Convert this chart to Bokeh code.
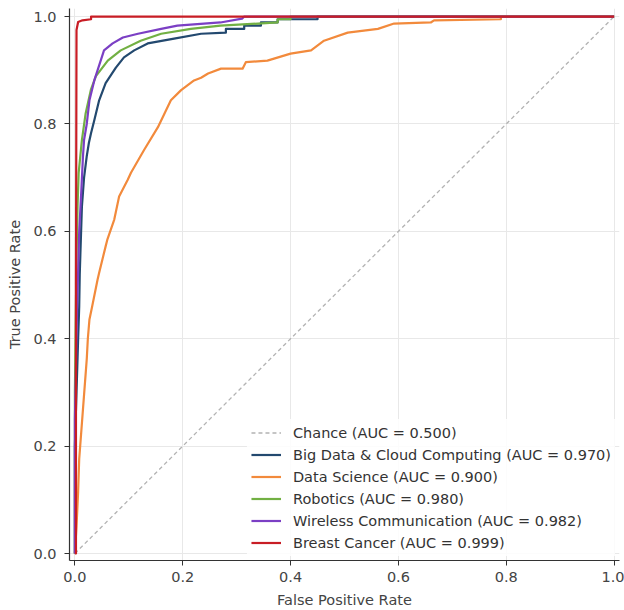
from bokeh.plotting import figure
from bokeh.models import FixedTicker, NumeralTickFormatter
from bokeh.embed import file_html
from bokeh.resources import INLINE

# ---- data ----
chance_fpr = [0.0, 1.0]
chance_tpr = [0.0, 1.0]

bigdata_fpr = [0.0, 0.0, 0.003, 0.006, 0.008, 0.009, 0.011, 0.013, 0.017, 0.022, 0.026, 0.03, 0.036, 0.045,
               0.057, 0.076, 0.091, 0.11, 0.135, 0.184, 0.234, 0.28, 0.28, 0.314, 0.314, 0.345, 0.345,
               0.376, 0.376, 0.45, 0.45, 1.0]
bigdata_tpr = [0.0, 0.2, 0.3, 0.4, 0.46, 0.52, 0.584, 0.646, 0.70, 0.74, 0.765, 0.783, 0.807, 0.844,
               0.876, 0.905, 0.924, 0.937, 0.95, 0.959, 0.968, 0.97, 0.977, 0.977, 0.983, 0.983, 0.989,
               0.989, 0.995, 0.995, 1.0, 1.0]

datasci_fpr = [0.0, 0.003, 0.006, 0.008, 0.015, 0.022, 0.024, 0.027, 0.032, 0.042, 0.045, 0.057, 0.06,
               0.073, 0.082, 0.098, 0.104, 0.128, 0.154, 0.178, 0.197, 0.221, 0.234, 0.247, 0.271, 0.311,
               0.317, 0.357, 0.40, 0.438, 0.462, 0.506, 0.562, 0.592, 0.66, 0.666, 0.79, 0.79, 1.0]
datasci_tpr = [0.0, 0.05, 0.115, 0.176, 0.269, 0.362, 0.40, 0.436, 0.46, 0.51, 0.523, 0.572, 0.584,
               0.622, 0.665, 0.696, 0.709, 0.751, 0.794, 0.844, 0.863, 0.881, 0.886, 0.894, 0.903, 0.903,
               0.915, 0.918, 0.931, 0.937, 0.955, 0.97, 0.977, 0.987, 0.989, 0.993, 0.995, 1.0, 1.0]

robotics_fpr = [0.0, 0.0, 0.003, 0.005, 0.007, 0.011, 0.013, 0.02, 0.03, 0.039, 0.061, 0.085, 0.122,
                0.16, 0.215, 0.27, 0.376, 0.376, 0.40, 0.40, 1.0]
robotics_tpr = [0.0, 0.3, 0.55, 0.65, 0.709, 0.75, 0.77, 0.82, 0.865, 0.889, 0.918, 0.937, 0.955,
                0.968, 0.977, 0.983, 0.989, 0.995, 0.995, 1.0, 1.0]

wireless_fpr = [0.0, 0.0, 0.004, 0.008, 0.012, 0.015, 0.017, 0.022, 0.027, 0.036, 0.054, 0.07, 0.089,
                0.117, 0.16, 0.19, 0.27, 0.31, 0.314, 1.0]
wireless_tpr = [0.0, 0.25, 0.45, 0.6, 0.677, 0.74, 0.77, 0.80, 0.844, 0.881, 0.937, 0.95, 0.961,
                0.968, 0.977, 0.983, 0.989, 0.996, 1.0, 1.0]

cancer_fpr = [0.0, 0.002, 0.002, 0.003, 0.006, 0.014, 0.03, 0.03, 1.0]
cancer_tpr = [0.0, 0.0, 0.5, 0.975, 0.99, 0.993, 0.995, 1.0, 1.0]

labels = ["Chance (AUC = 0.500)",
          "Big Data & Cloud Computing (AUC = 0.970)",
          "Data Science (AUC = 0.900)",
          "Robotics (AUC = 0.980)",
          "Wireless Communication (AUC = 0.982)",
          "Breast Cancer (AUC = 0.999)"]
colors = ["#b3b3b3", "#23496f", "#f28a3c", "#72b043", "#7b3fc4", "#c81d25"]
tick_values = [0.0, 0.2, 0.4, 0.6, 0.8, 1.0]

FONT = "DejaVu Sans"
FS = "14.5px"

p = figure(width=624, height=610, output_backend="svg", toolbar_location=None,
           x_range=(-0.01, 1.01), y_range=(-0.013, 1.015),
           min_border_left=69, min_border_right=5, min_border_top=8, min_border_bottom=48,
           x_axis_label="False Positive Rate", y_axis_label="True Positive Rate")
p.outline_line_color = None
p.background_fill_color = "white"

p.line(chance_fpr, chance_tpr, line_color=colors[0], line_width=1.3, line_dash="4 3",
       legend_label=labels[0])
series = [(bigdata_fpr, bigdata_tpr), (datasci_fpr, datasci_tpr), (robotics_fpr, robotics_tpr),
          (wireless_fpr, wireless_tpr), (cancer_fpr, cancer_tpr)]
for (fx, ty), lab, col in zip(series, labels[1:], colors[1:]):
    p.line(fx, ty, line_color=col, line_width=2.2, legend_label=lab, line_join="round")

for ax in (p.xaxis[0], p.yaxis[0]):
    ax.ticker = FixedTicker(ticks=tick_values)
    ax.formatter = NumeralTickFormatter(format="0.0")
    ax.axis_line_color = "#333333"
    ax.axis_line_width = 1.2
    ax.major_tick_line_color = "#333333"
    ax.major_tick_out = 5
    ax.major_tick_in = 0
    ax.minor_tick_line_color = None
    ax.major_label_text_font = FONT
    ax.major_label_text_font_size = FS
    ax.major_label_text_color = "#444444"
    ax.axis_label_text_font = FONT
    ax.axis_label_text_font_size = FS
    ax.axis_label_text_font_style = "normal"
    ax.axis_label_text_color = "#444444"
    ax.axis_label_standoff = 7
p.xaxis[0].major_label_standoff = 6
p.yaxis[0].major_label_standoff = 8

for g in (p.xgrid[0], p.ygrid[0]):
    g.ticker = FixedTicker(ticks=tick_values)
    g.grid_line_color = "#e8e8e8"
    g.grid_line_width = 1

lg = p.legend[0]
lg.location = "bottom_right"
lg.margin = 4
lg.padding = 4
lg.spacing = 3
lg.glyph_width = 30
lg.glyph_height = 19
lg.label_height = 19
lg.label_standoff = 12
lg.label_text_font = FONT
lg.label_text_font_size = FS
lg.label_text_color = "#333333"
lg.border_line_alpha = 0
lg.background_fill_color = "white"
lg.background_fill_alpha = 0.85

open("out.html", "w").write(file_html(p, INLINE))
